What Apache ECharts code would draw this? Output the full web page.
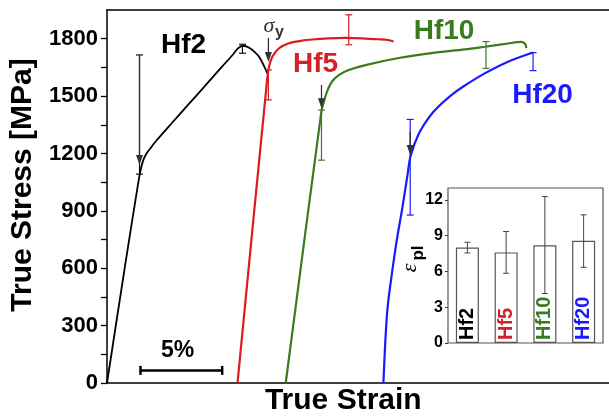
<!DOCTYPE html>
<html><head><meta charset="utf-8">
<script src="https://cdn.jsdelivr.net/npm/echarts@6/dist/echarts.min.js"></script>
<style>html,body{margin:0;padding:0;background:#fff}#c{width:609px;height:416px}</style>
</head><body><div id="c"></div>
<script>
// ---- main curves (true strain in %, true stress in MPa) ----
const hf2Strain = [0, 1.13, 1.90, 2.05, 2.20, 2.40, 2.70, 3.0, 4.0, 5.0, 6.0, 7.0, 7.7, 8.0, 8.3, 8.6, 8.9, 9.31, 9.82];
const hf2Stress = [0, 627, 1040, 1110, 1160, 1197, 1232, 1265, 1362, 1458, 1553, 1650, 1716, 1748, 1763, 1757, 1741, 1706, 1619];
const hf5Strain = [7.99, 9.80, 9.92, 10.12, 10.53, 11.14, 11.95, 12.8, 13.58, 14.6, 15.61, 16.65, 17.2, 17.54];
const hf5Stress = [0, 1584, 1654, 1706, 1750, 1776, 1790, 1797, 1802, 1804, 1802, 1797, 1793, 1785];
const hf10Strain = [10.94, 13.12, 13.27, 13.46, 13.76, 14.19, 14.8, 15.82, 17.85, 19.86, 21.91, 23.13, 24.55, 25.37, 25.6, 25.67];
const hf10Stress = [0, 1417, 1469, 1521, 1574, 1610, 1636, 1662, 1699, 1725, 1744, 1758, 1775, 1783, 1772, 1751];
const hf20Strain = [16.92, 17.04, 17.18, 17.44, 17.74, 18.09, 18.41, 18.58, 19.07, 19.68, 20.29, 21.08, 21.81, 23.15, 24.55, 26.08];
const hf20Stress = [0, 223, 398, 572, 747, 921, 1096, 1185, 1300, 1385, 1445, 1505, 1550, 1620, 1680, 1728];

// error bars: x, low, high
const hf2ErrX = [1.99, 8.29],  hf2ErrLo = [1092, 1724], hf2ErrHi = [1715, 1771];
const hf5ErrX = [9.88, 14.8],  hf5ErrLo = [1480, 1768], hf5ErrHi = [1637, 1925];
const hf10ErrX = [13.13, 23.2], hf10ErrLo = [1165, 1645], hf10ErrHi = [1427, 1785];
const hf20ErrX = [18.56, 26.08], hf20ErrLo = [878, 1633], hf20ErrHi = [1378, 1727];

// yield arrows
const arrowX = [1.99, 9.88, 13.13, 18.56];
const arrowFrom = [1715, 1804, 1558, 1313];
const arrowTo = [1140, 1678, 1437, 1192];

// 5% scale bar
const scaleBarStart = 2.05, scaleBarLength = 5, scaleBarStress = 66;

// y ticks
const yTicks = [0, 300, 600, 900, 1200, 1500, 1800];
const yMinorTicks = [0, 150, 300, 450, 600, 750, 900, 1050, 1200, 1350, 1500, 1650, 1800];

// ---- inset: plastic strain ----
const insetCats = ['Hf2', 'Hf5', 'Hf10', 'Hf20'];
const insetVals = [8.0, 7.6, 8.2, 8.57];
const insetLo = [7.55, 5.85, 4.15, 6.35];
const insetHi = [8.45, 9.35, 12.28, 10.75];
const insetTicks = [0, 3, 6, 9, 12];

const C = {hf2: '#000000', hf5: '#dc1a20', hf10: '#3b7a1e', hf20: '#1a1aff'};
const insetColors = [C.hf2, '#d42027', C.hf10, C.hf20];
const FF = "'Liberation Sans', Arial, sans-serif";

const zip = (a, b) => a.map((v, i) => [v, b[i]]);
const zip3 = (a, b, c) => a.map((v, i) => [v, b[i], c[i]]);

function errRender(color, cap, lw) {
  return function (params, api) {
    const x = api.value(0), lo = api.value(1), hi = api.value(2);
    const p1 = api.coord([x, lo]), p2 = api.coord([x, hi]);
    const style = {stroke: color, lineWidth: lw};
    return {type: 'group', children: [
      {type: 'line', shape: {x1: p1[0], y1: p1[1], x2: p2[0], y2: p2[1]}, style},
      {type: 'line', shape: {x1: p1[0] - cap, y1: p1[1], x2: p1[0] + cap, y2: p1[1]}, style},
      {type: 'line', shape: {x1: p2[0] - cap, y1: p2[1], x2: p2[0] + cap, y2: p2[1]}, style}
    ]};
  };
}
function arrowRender(params, api) {
  const x = api.value(0), a = api.coord([x, api.value(1)]), b = api.coord([x, api.value(2)]);
  const hl = 10, hw = 3.5;
  return {type: 'group', children: [
    {type: 'line', shape: {x1: a[0], y1: a[1], x2: b[0], y2: b[1] - hl + 2}, style: {stroke: '#333', lineWidth: 1.3}},
    {type: 'polygon', shape: {points: [[b[0], b[1]], [b[0] - hw, b[1] - hl], [b[0] + hw, b[1] - hl]]}, style: {fill: '#333'}}
  ]};
}
function scaleRender(params, api) {
  const a = api.coord([api.value(0), api.value(1)]), b = api.coord([api.value(0) + api.value(2), api.value(1)]);
  const st = {stroke: '#000', lineWidth: 2.5};
  return {type: 'group', children: [
    {type: 'line', shape: {x1: a[0], y1: a[1], x2: b[0], y2: b[1]}, style: st},
    {type: 'line', shape: {x1: a[0], y1: a[1] - 4.5, x2: a[0], y2: a[1] + 4.5}, style: st},
    {type: 'line', shape: {x1: b[0], y1: b[1] - 4.5, x2: b[0], y2: b[1] + 4.5}, style: st}
  ]};
}

const line = (name, data, color, w) => ({
  name, type: 'line', data, xAxisIndex: 0, yAxisIndex: 0, showSymbol: false, symbol: 'none',
  smooth: 0.3, lineStyle: {color, width: w}, silent: true, animation: false
});
const errs = (data, color) => ({
  type: 'custom', xAxisIndex: 0, yAxisIndex: 0, data, renderItem: errRender(color, 3.5, 1.2), silent: true, animation: false, z: 5
});

const txt = (text, x, y, size, color) => ({
  type: 'text', x, y, style: {text, fill: color, font: `bold ${size}px ${FF}`, align: 'center', verticalAlign: 'middle'}
});

const chart = echarts.init(document.getElementById('c'), null, {renderer: 'canvas'});
chart.setOption({
  animation: false,
  backgroundColor: '#fff',
  grid: [
    {left: 107, right: -2, top: 10, bottom: 33, containLabel: false},
    {left: 448, top: 188, width: 155, height: 155, show: true, backgroundColor: '#fff', borderColor: '#555', borderWidth: 1.2, z: 10}
  ],
  xAxis: [
    {type: 'value', gridIndex: 0, min: 0, max: 30.73, position: 'bottom',
     axisLine: {show: true, onZero: false, lineStyle: {color: '#000', width: 1.5}},
     axisTick: {show: false}, axisLabel: {show: false}, splitLine: {show: false}},
    {type: 'value', gridIndex: 0, min: 0, max: 30.73, position: 'top',
     axisLine: {show: true, onZero: false, lineStyle: {color: '#000', width: 1.5}},
     axisTick: {show: false}, axisLabel: {show: false}, splitLine: {show: false}},
    {type: 'category', gridIndex: 1, data: insetCats, axisLine: {show: false}, axisTick: {show: false},
     axisLabel: {show: false}, splitLine: {show: false}}
  ],
  yAxis: [
    {type: 'value', gridIndex: 0, min: 0, max: 1950, interval: 150,
     axisLine: {show: true, lineStyle: {color: '#000', width: 1.5}},
     axisTick: {show: true, inside: false, length: 6, customValues: yMinorTicks, lineStyle: {color: '#000', width: 1.3}},
     axisLabel: {show: true, customValues: yTicks, margin: 9, color: '#000', fontSize: 22, fontWeight: 'bold', fontFamily: FF,
       formatter: v => (v % 300 === 0 && v <= 1800) ? String(v) : ''},
     splitLine: {show: false}},
    {type: 'value', gridIndex: 1, min: 0, max: 13, interval: 3,
     axisLine: {show: false},
     axisTick: {show: true, length: 3, customValues: insetTicks, lineStyle: {color: '#333', width: 1}},
     axisLabel: {show: true, customValues: insetTicks, margin: 5, color: '#000', fontSize: 16, fontWeight: 'bold', fontFamily: FF,
       formatter: v => (v % 3 === 0 && v <= 12) ? String(v) : ''},
     splitLine: {show: false}}
  ],
  series: [
    line('Hf2', zip(hf2Strain, hf2Stress), C.hf2, 1.8),
    line('Hf5', zip(hf5Strain, hf5Stress), C.hf5, 2.2),
    line('Hf10', zip(hf10Strain, hf10Stress), C.hf10, 2.2),
    line('Hf20', zip(hf20Strain, hf20Stress), C.hf20, 2.2),
    errs(zip3(hf2ErrX, hf2ErrLo, hf2ErrHi), '#111'),
    errs(zip3(hf5ErrX, hf5ErrLo, hf5ErrHi), C.hf5),
    errs(zip3(hf10ErrX, hf10ErrLo, hf10ErrHi), C.hf10),
    errs(zip3(hf20ErrX, hf20ErrLo, hf20ErrHi), C.hf20),
    {type: 'custom', xAxisIndex: 0, yAxisIndex: 0, data: zip3(arrowX, arrowFrom, arrowTo), renderItem: arrowRender, silent: true, z: 6},
    {type: 'custom', xAxisIndex: 0, yAxisIndex: 0, data: [[scaleBarStart, scaleBarStress, scaleBarLength]], renderItem: scaleRender, silent: true},
    {type: 'bar', xAxisIndex: 2, yAxisIndex: 1, barWidth: 23, z: 11,
     data: insetVals.map((v, i) => ({value: v, label: {color: insetColors[i]}})),
     itemStyle: {color: '#fff', borderColor: '#555', borderWidth: 1.2},
     label: {show: true, position: 'insideBottom', distance: 3, rotate: 90, align: 'left', verticalAlign: 'middle',
       formatter: p => insetCats[p.dataIndex], fontSize: 20, fontWeight: 'bold', fontFamily: FF}},
    {type: 'custom', xAxisIndex: 2, yAxisIndex: 1, z: 12, data: zip3([0, 1, 2, 3], insetLo, insetHi),
     renderItem: errRender('#444', 3, 1), silent: true}
  ],
  graphic: [
    txt('Hf2', 183.5, 45, 28, '#000'),
    txt('Hf5', 315.5, 64, 28, '#d42027'),
    txt('Hf10', 444, 31, 28, C.hf10),
    txt('Hf20', 542.5, 95.5, 28, C.hf20),
    txt('5%', 177.5, 351, 23, '#000'),
    {type: 'text', x: 269, y: 26, style: {text: 'σ', fill: '#333', font: "italic 22px 'Liberation Serif', 'Times New Roman', serif", align: 'center', verticalAlign: 'middle'}},
    {type: 'text', x: 279.5, y: 33, style: {text: 'y', fill: '#333', font: `bold 16px ${FF}`, align: 'center', verticalAlign: 'middle'}},
    {type: 'text', x: 23, y: 185, rotation: Math.PI / 2, style: {text: 'True Stress [MPa]', fill: '#000', font: `bold 30px ${FF}`, align: 'center', verticalAlign: 'middle'}},
    {type: 'text', x: 343.3, y: 401, style: {text: 'True Strain', fill: '#000', font: `bold 30px ${FF}`, align: 'center', verticalAlign: 'middle'}},
    {type: 'text', x: 410, y: 268, rotation: Math.PI / 2, z: 20, style: {text: 'ε', fill: '#000', font: "italic 22px 'Liberation Serif', 'Times New Roman', serif", align: 'center', verticalAlign: 'middle'}},
    {type: 'text', x: 418, y: 253, rotation: Math.PI / 2, z: 20, style: {text: 'pl', fill: '#000', font: `bold 17px ${FF}`, align: 'center', verticalAlign: 'middle'}}
  ]
});
</script>
</body></html>
